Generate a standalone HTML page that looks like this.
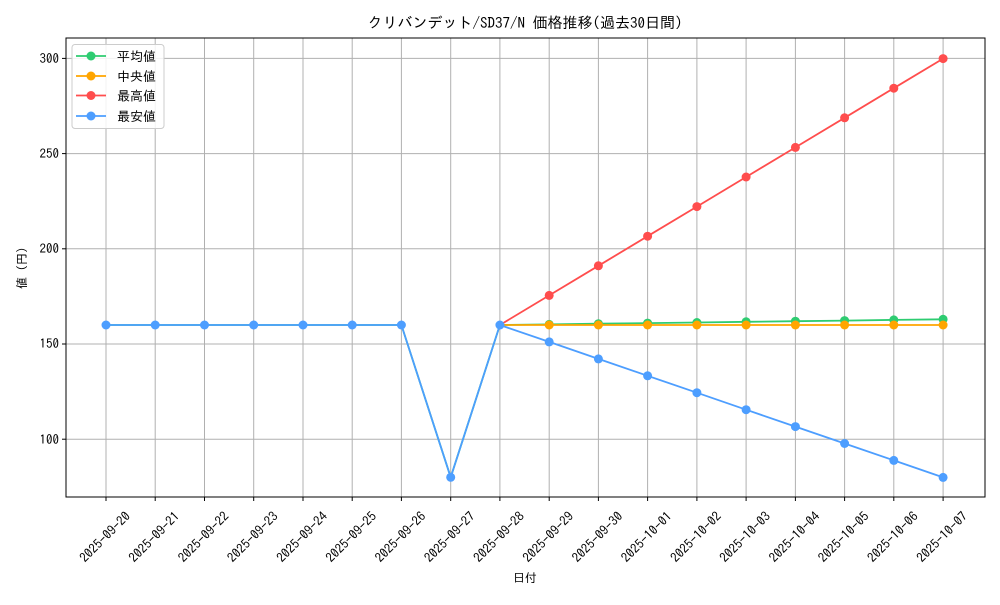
<!DOCTYPE html><html><head><meta charset="utf-8"><style>body{margin:0;background:#fff}svg{font-family:"IPAGothic","Liberation Sans",sans-serif}</style></head><body>
<svg width="1000" height="600" xmlns="http://www.w3.org/2000/svg">
<rect width="1000" height="600" fill="#fff"/>
<text x="525" y="28" font-size="15" text-anchor="middle">クリバンデット/SD37/N 価格推移(過去30日間)</text>
<g stroke="#b0b0b0" stroke-width="1">
<line x1="106" y1="38" x2="106" y2="497"/><line x1="155.2" y1="38" x2="155.2" y2="497"/><line x1="204.5" y1="38" x2="204.5" y2="497"/><line x1="253.7" y1="38" x2="253.7" y2="497"/><line x1="303" y1="38" x2="303" y2="497"/><line x1="352.2" y1="38" x2="352.2" y2="497"/><line x1="401.4" y1="38" x2="401.4" y2="497"/><line x1="450.7" y1="38" x2="450.7" y2="497"/><line x1="499.9" y1="38" x2="499.9" y2="497"/><line x1="549.2" y1="38" x2="549.2" y2="497"/><line x1="598.4" y1="38" x2="598.4" y2="497"/><line x1="647.6" y1="38" x2="647.6" y2="497"/><line x1="696.9" y1="38" x2="696.9" y2="497"/><line x1="746.1" y1="38" x2="746.1" y2="497"/><line x1="795.4" y1="38" x2="795.4" y2="497"/><line x1="844.6" y1="38" x2="844.6" y2="497"/><line x1="893.8" y1="38" x2="893.8" y2="497"/><line x1="943.1" y1="38" x2="943.1" y2="497"/>
<line x1="66" y1="58.4" x2="985" y2="58.4"/><line x1="66" y1="153.6" x2="985" y2="153.6"/><line x1="66" y1="248.8" x2="985" y2="248.8"/><line x1="66" y1="344" x2="985" y2="344"/><line x1="66" y1="439.2" x2="985" y2="439.2"/>
</g>
<rect x="66" y="38" width="919" height="459" fill="none" stroke="#000" stroke-width="1"/>
<g stroke="#000"><line x1="62" y1="58.4" x2="66" y2="58.4"/><line x1="62" y1="153.6" x2="66" y2="153.6"/><line x1="62" y1="248.8" x2="66" y2="248.8"/><line x1="62" y1="344" x2="66" y2="344"/><line x1="62" y1="439.2" x2="66" y2="439.2"/>
<line x1="106" y1="497" x2="106" y2="501"/><line x1="155.2" y1="497" x2="155.2" y2="501"/><line x1="204.5" y1="497" x2="204.5" y2="501"/><line x1="253.7" y1="497" x2="253.7" y2="501"/><line x1="303" y1="497" x2="303" y2="501"/><line x1="352.2" y1="497" x2="352.2" y2="501"/><line x1="401.4" y1="497" x2="401.4" y2="501"/><line x1="450.7" y1="497" x2="450.7" y2="501"/><line x1="499.9" y1="497" x2="499.9" y2="501"/><line x1="549.2" y1="497" x2="549.2" y2="501"/><line x1="598.4" y1="497" x2="598.4" y2="501"/><line x1="647.6" y1="497" x2="647.6" y2="501"/><line x1="696.9" y1="497" x2="696.9" y2="501"/><line x1="746.1" y1="497" x2="746.1" y2="501"/><line x1="795.4" y1="497" x2="795.4" y2="501"/><line x1="844.6" y1="497" x2="844.6" y2="501"/><line x1="893.8" y1="497" x2="893.8" y2="501"/><line x1="943.1" y1="497" x2="943.1" y2="501"/></g>
<g font-size="13" text-anchor="end"><text x="59" y="63">300</text><text x="59" y="158">250</text><text x="59" y="253">200</text><text x="59" y="348">150</text><text x="59" y="444">100</text></g>
<text transform="translate(26,268) rotate(-90)" font-size="12" text-anchor="middle">値 (円)</text>
<text x="525" y="582" font-size="12" text-anchor="middle">日付</text>
<g font-size="13" text-anchor="middle" dominant-baseline="central">
<text transform="translate(105,537) rotate(-45)">2025-09-20</text><text transform="translate(154.2,537) rotate(-45)">2025-09-21</text><text transform="translate(203.5,537) rotate(-45)">2025-09-22</text><text transform="translate(252.7,537) rotate(-45)">2025-09-23</text><text transform="translate(302,537) rotate(-45)">2025-09-24</text><text transform="translate(351.2,537) rotate(-45)">2025-09-25</text><text transform="translate(400.4,537) rotate(-45)">2025-09-26</text><text transform="translate(449.7,537) rotate(-45)">2025-09-27</text><text transform="translate(498.9,537) rotate(-45)">2025-09-28</text><text transform="translate(548.2,537) rotate(-45)">2025-09-29</text><text transform="translate(597.4,537) rotate(-45)">2025-09-30</text><text transform="translate(646.6,537) rotate(-45)">2025-10-01</text><text transform="translate(695.9,537) rotate(-45)">2025-10-02</text><text transform="translate(745.1,537) rotate(-45)">2025-10-03</text><text transform="translate(794.4,537) rotate(-45)">2025-10-04</text><text transform="translate(843.6,537) rotate(-45)">2025-10-05</text><text transform="translate(892.8,537) rotate(-45)">2025-10-06</text><text transform="translate(942.1,537) rotate(-45)">2025-10-07</text>
</g>
<polyline fill="none" stroke="#2ecc71" stroke-width="1.8" points="106,325 155.2,325 204.5,325 253.7,325 303,325 352.2,325 401.4,325 450.7,477.3 499.9,325 549.2,324.4 598.4,323.7 647.6,323.1 696.9,322.5 746.1,321.8 795.4,321.2 844.6,320.6 893.8,319.9 943.1,319.3"/>
<g fill="#2ecc71"><circle cx="549.2" cy="324.4" r="4.5"/><circle cx="598.4" cy="323.7" r="4.5"/><circle cx="647.6" cy="323.1" r="4.5"/><circle cx="696.9" cy="322.5" r="4.5"/><circle cx="746.1" cy="321.8" r="4.5"/><circle cx="795.4" cy="321.2" r="4.5"/><circle cx="844.6" cy="320.6" r="4.5"/><circle cx="893.8" cy="319.9" r="4.5"/><circle cx="943.1" cy="319.3" r="4.5"/></g>
<polyline fill="none" stroke="#ffa500" stroke-width="1.8" points="499.9,325 943.1,325"/>
<g fill="#ffa500"><circle cx="549.2" cy="325" r="4.5"/><circle cx="598.4" cy="325" r="4.5"/><circle cx="647.6" cy="325" r="4.5"/><circle cx="696.9" cy="325" r="4.5"/><circle cx="746.1" cy="325" r="4.5"/><circle cx="795.4" cy="325" r="4.5"/><circle cx="844.6" cy="325" r="4.5"/><circle cx="893.8" cy="325" r="4.5"/><circle cx="943.1" cy="325" r="4.5"/></g>
<polyline fill="none" stroke="#ff4d4d" stroke-width="1.8" points="499.9,325 549.2,295.4 598.4,265.8 647.6,236.2 696.9,206.6 746.1,177 795.4,147.4 844.6,117.8 893.8,88.2 943.1,58.6"/>
<g fill="#ff4d4d"><circle cx="549.2" cy="295.4" r="4.5"/><circle cx="598.4" cy="265.8" r="4.5"/><circle cx="647.6" cy="236.2" r="4.5"/><circle cx="696.9" cy="206.6" r="4.5"/><circle cx="746.1" cy="177" r="4.5"/><circle cx="795.4" cy="147.4" r="4.5"/><circle cx="844.6" cy="117.8" r="4.5"/><circle cx="893.8" cy="88.2" r="4.5"/><circle cx="943.1" cy="58.6" r="4.5"/></g>
<polyline fill="none" stroke="#4d9eff" stroke-width="1.8" points="106,325 155.2,325 204.5,325 253.7,325 303,325 352.2,325 401.4,325 450.7,477.3 499.9,325 549.2,341.9 598.4,358.9 647.6,375.8 696.9,392.7 746.1,409.7 795.4,426.6 844.6,443.5 893.8,460.4 943.1,477.4"/>
<g fill="#4d9eff"><circle cx="106" cy="325" r="4.5"/><circle cx="155.2" cy="325" r="4.5"/><circle cx="204.5" cy="325" r="4.5"/><circle cx="253.7" cy="325" r="4.5"/><circle cx="303" cy="325" r="4.5"/><circle cx="352.2" cy="325" r="4.5"/><circle cx="401.4" cy="325" r="4.5"/><circle cx="450.7" cy="477.3" r="4.5"/><circle cx="499.9" cy="325" r="4.5"/><circle cx="549.2" cy="341.9" r="4.5"/><circle cx="598.4" cy="358.9" r="4.5"/><circle cx="647.6" cy="375.8" r="4.5"/><circle cx="696.9" cy="392.7" r="4.5"/><circle cx="746.1" cy="409.7" r="4.5"/><circle cx="795.4" cy="426.6" r="4.5"/><circle cx="844.6" cy="443.5" r="4.5"/><circle cx="893.8" cy="460.4" r="4.5"/><circle cx="943.1" cy="477.4" r="4.5"/></g>
<rect x="72" y="44.5" width="92" height="84" rx="3" fill="#fff" fill-opacity="0.85" stroke="#ccc"/>
<g stroke-width="1.8"><line x1="76" y1="56" x2="106" y2="56" stroke="#2ecc71"/><line x1="76" y1="76" x2="106" y2="76" stroke="#ffa500"/><line x1="76" y1="95.5" x2="106" y2="95.5" stroke="#ff4d4d"/><line x1="76" y1="116" x2="106" y2="116" stroke="#4d9eff"/></g>
<circle cx="91" cy="56" r="4.5" fill="#2ecc71"/><circle cx="91" cy="76" r="4.5" fill="#ffa500"/><circle cx="91" cy="95.5" r="4.5" fill="#ff4d4d"/><circle cx="91" cy="116" r="4.5" fill="#4d9eff"/>
<g font-size="13"><text x="117" y="61">平均値</text><text x="117" y="81">中央値</text><text x="117" y="100.5">最高値</text><text x="117" y="121">最安値</text></g>
</svg></body></html>
